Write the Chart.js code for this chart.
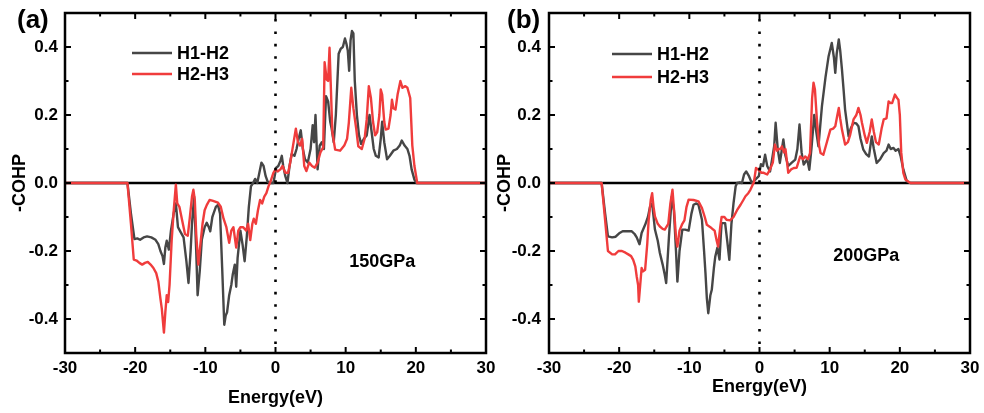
<!DOCTYPE html>
<html>
<head>
<meta charset="utf-8">
<script src="https://cdn.jsdelivr.net/npm/chart.js@4"></script>
<style>
  body { margin: 0; background: #fff; }
  #wrap { position: relative; width: 984px; height: 413px; }
  canvas { display: block; position: absolute; top: 0; }
  #panelA { left: 0; }
  #panelB { left: 492px; }
</style>
</head>
<body>
<div id="wrap">
  <canvas id="panelA" width="512" height="413"></canvas>
  <canvas id="panelB" width="492" height="413"></canvas>
</div>
<script>
// -COHP curves, [energy (eV), -COHP] pairs
const h12_150 = [
  [-30, 0], [-21.1, 0], [-20.6, -0.09], [-20.1, -0.165], [-19.7, -0.163], [-19.3, -0.167], [-18.8, -0.16],
  [-18.3, -0.157], [-17.7, -0.16], [-17.1, -0.167], [-16.7, -0.18], [-16.4, -0.2], [-16.1, -0.215],
  [-15.9, -0.238], [-15.7, -0.19], [-15.5, -0.17], [-15.2, -0.196], [-14.9, -0.14], [-14.5, -0.088],
  [-14.2, -0.06], [-13.9, -0.13], [-13.5, -0.145], [-13.1, -0.16], [-12.7, -0.23], [-12.4, -0.294],
  [-12.1, -0.2], [-11.9, -0.12], [-11.6, -0.04], [-11.3, -0.2], [-11.1, -0.33], [-10.8, -0.26],
  [-10.5, -0.167], [-10.1, -0.13], [-9.8, -0.117], [-9.5, -0.13], [-9.3, -0.142], [-9.0, -0.1],
  [-8.8, -0.088], [-8.5, -0.07], [-8.2, -0.064], [-7.9, -0.09], [-7.6, -0.25], [-7.3, -0.417],
  [-7.1, -0.39], [-6.9, -0.38], [-6.6, -0.33], [-6.3, -0.3], [-6.1, -0.27], [-5.8, -0.24], [-5.6, -0.305],
  [-5.4, -0.22], [-5.0, -0.14], [-4.7, -0.18], [-4.4, -0.23], [-4.1, -0.16], [-3.8, -0.07], [-3.5, -0.01],
  [-3.2, 0.0], [-2.9, 0.012], [-2.6, 0.0], [-2.3, 0.03], [-2.0, 0.06], [-1.7, 0.05], [-1.4, 0.02],
  [-1.1, 0.003], [-0.7, 0.0], [-0.3, 0.0], [0.1, 0.045], [0.4, 0.05], [0.7, 0.065], [0.9, 0.08],
  [1.1, 0.05], [1.4, 0.02], [1.7, 0.0], [2.0, 0.05], [2.3, 0.085], [2.7, 0.08], [3.0, 0.1], [3.3, 0.13],
  [3.6, 0.155], [3.9, 0.1], [4.2, 0.07], [4.6, 0.06], [5.0, 0.1], [5.3, 0.17], [5.5, 0.12], [5.7, 0.2],
  [6.0, 0.04], [6.3, 0.11], [6.6, 0.12], [6.9, 0.1], [7.2, 0.255], [7.5, 0.24], [7.8, 0.18], [8.0, 0.16],
  [8.3, 0.12], [8.6, 0.2], [9.0, 0.38], [9.3, 0.395], [9.6, 0.4], [9.9, 0.425], [10.1, 0.41], [10.3, 0.39],
  [10.5, 0.33], [10.7, 0.42], [10.9, 0.447], [11.1, 0.44], [11.3, 0.3], [11.6, 0.2], [11.9, 0.14],
  [12.2, 0.115], [12.6, 0.13], [13.0, 0.14], [13.4, 0.2], [13.7, 0.15], [14.0, 0.1], [14.3, 0.08],
  [14.7, 0.075], [15.0, 0.13], [15.2, 0.18], [15.5, 0.12], [15.9, 0.07], [16.3, 0.08], [16.8, 0.095],
  [17.3, 0.1], [17.7, 0.11], [18.0, 0.125], [18.4, 0.11], [18.8, 0.1], [19.1, 0.08], [19.4, 0.04],
  [19.8, 0.01], [20.1, 0.0], [30, 0]
];

const h23_150 = [
  [-30, 0], [-21.1, 0], [-20.6, -0.12], [-20.2, -0.225], [-19.8, -0.228], [-19.4, -0.235], [-19.0, -0.24],
  [-18.6, -0.235], [-18.2, -0.232], [-17.8, -0.24], [-17.4, -0.25], [-17.0, -0.265], [-16.7, -0.29],
  [-16.4, -0.34], [-16.2, -0.37], [-15.9, -0.44], [-15.7, -0.38], [-15.5, -0.33], [-15.3, -0.35],
  [-15.1, -0.3], [-14.8, -0.17], [-14.5, -0.08], [-14.2, -0.005], [-14.0, -0.06], [-13.7, -0.07],
  [-13.3, -0.11], [-12.9, -0.15], [-12.5, -0.155], [-12.2, -0.1], [-11.9, -0.04], [-11.7, -0.02],
  [-11.5, -0.05], [-11.3, -0.15], [-11.0, -0.24], [-10.7, -0.18], [-10.4, -0.12], [-10.1, -0.08],
  [-9.8, -0.065], [-9.4, -0.05], [-9.0, -0.052], [-8.6, -0.055], [-8.2, -0.058], [-7.8, -0.07],
  [-7.4, -0.105], [-7.0, -0.13], [-6.6, -0.176], [-6.3, -0.14], [-6.0, -0.13], [-5.6, -0.19], [-5.3, -0.14],
  [-5.0, -0.13], [-4.6, -0.13], [-4.2, -0.14], [-3.9, -0.12], [-3.6, -0.168], [-3.3, -0.12], [-3.1, -0.105],
  [-2.8, -0.12], [-2.5, -0.08], [-2.2, -0.05], [-1.9, -0.06], [-1.6, -0.04], [-1.3, -0.03], [-1.0, -0.01],
  [-0.7, 0.005], [-0.3, 0.03], [0.0, 0.04], [0.3, 0.034], [0.7, 0.04], [1.0, 0.05], [1.4, 0.03],
  [1.8, 0.03], [2.1, 0.06], [2.5, 0.11], [2.9, 0.16], [3.2, 0.12], [3.5, 0.11], [3.8, 0.13], [4.1, 0.05],
  [4.4, 0.035], [4.8, 0.06], [5.2, 0.05], [5.6, 0.045], [6.0, 0.06], [6.4, 0.09], [6.8, 0.105],
  [7.0, 0.355], [7.3, 0.304], [7.5, 0.3], [7.7, 0.398], [8.1, 0.15], [8.5, 0.098], [9.2, 0.095],
  [9.8, 0.11], [10.2, 0.13], [10.45, 0.177], [10.8, 0.28], [11.1, 0.22], [11.5, 0.16], [11.8, 0.108],
  [12.3, 0.1], [12.7, 0.13], [13.0, 0.187], [13.3, 0.285], [13.6, 0.25], [13.9, 0.18], [14.2, 0.14],
  [14.5, 0.15], [14.8, 0.2], [15.0, 0.275], [15.2, 0.26], [15.5, 0.18], [15.7, 0.157], [16.1, 0.16],
  [16.4, 0.2], [16.6, 0.245], [16.8, 0.22], [17.1, 0.216], [17.4, 0.26], [17.8, 0.3], [18.1, 0.28],
  [18.5, 0.285], [18.8, 0.28], [19.2, 0.25], [19.5, 0.11], [19.8, 0.05], [20.2, 0.0], [30, 0]
];

const h12_200 = [
  [-30, 0], [-22.5, 0], [-22.0, -0.09], [-21.6, -0.157], [-21.0, -0.16], [-20.5, -0.158], [-20.0, -0.148],
  [-19.5, -0.142], [-18.8, -0.142], [-18.2, -0.142], [-17.8, -0.15], [-17.5, -0.16], [-17.1, -0.18],
  [-16.8, -0.147], [-16.3, -0.123], [-15.9, -0.1], [-15.6, -0.07], [-15.3, -0.06], [-14.9, -0.137],
  [-14.5, -0.17], [-14.2, -0.206], [-13.8, -0.24], [-13.5, -0.27], [-13.3, -0.294], [-12.9, -0.157],
  [-12.5, -0.04], [-12.2, -0.08], [-11.9, -0.2], [-11.7, -0.29], [-11.4, -0.2], [-11.0, -0.137],
  [-10.6, -0.137], [-10.1, -0.14], [-9.7, -0.09], [-9.4, -0.064], [-9.0, -0.06], [-8.7, -0.064],
  [-8.2, -0.108], [-7.9, -0.2], [-7.7, -0.265], [-7.5, -0.34], [-7.3, -0.383], [-7.0, -0.33],
  [-6.8, -0.314], [-6.5, -0.25], [-6.3, -0.216], [-6.0, -0.19], [-5.7, -0.225], [-5.5, -0.15],
  [-5.4, -0.118], [-4.9, -0.118], [-4.6, -0.17], [-4.3, -0.226], [-4.0, -0.12], [-3.7, -0.059],
  [-3.4, -0.01], [-3.2, 0.0], [-2.8, 0.002], [-2.5, 0.0], [-2.2, 0.025], [-1.9, 0.034], [-1.5, 0.02],
  [-1.1, 0.0], [-0.6, 0.01], [-0.1, 0.02], [0.2, 0.055], [0.5, 0.05], [0.8, 0.083], [1.1, 0.05],
  [1.5, 0.034], [1.8, 0.07], [2.1, 0.11], [2.3, 0.177], [2.6, 0.1], [2.9, 0.059], [3.2, 0.1],
  [3.4, 0.128], [3.7, 0.08], [4.1, 0.05], [4.6, 0.06], [5.1, 0.069], [5.4, 0.1], [5.7, 0.172],
  [6.0, 0.09], [6.3, 0.054], [6.8, 0.07], [7.1, 0.039], [7.4, 0.1], [7.8, 0.2], [8.1, 0.15],
  [8.4, 0.108], [8.9, 0.226], [9.4, 0.31], [9.85, 0.373], [10.3, 0.412], [10.6, 0.37], [10.8, 0.324],
  [11.0, 0.38], [11.3, 0.422], [11.5, 0.39], [11.75, 0.334], [12.0, 0.27], [12.2, 0.216], [12.7, 0.137],
  [13.0, 0.16], [13.4, 0.177], [13.8, 0.175], [14.1, 0.167], [14.4, 0.13], [14.8, 0.098], [15.2, 0.085],
  [15.6, 0.078], [16.0, 0.137], [16.3, 0.1], [16.7, 0.059], [17.2, 0.07], [17.7, 0.088], [18.1, 0.095],
  [18.4, 0.113], [18.7, 0.1], [19.1, 0.103], [19.4, 0.095], [19.8, 0.1], [20.1, 0.08], [20.5, 0.04],
  [21.0, 0.005], [21.5, 0], [30, 0]
];

const h23_200 = [
  [-30, 0], [-22.5, 0], [-22.0, -0.11], [-21.6, -0.2], [-21.0, -0.21], [-20.6, -0.21], [-20.1, -0.2],
  [-19.6, -0.2], [-19.1, -0.205], [-18.7, -0.21], [-18.3, -0.215], [-18.0, -0.226], [-17.7, -0.245],
  [-17.5, -0.275], [-17.3, -0.3], [-17.2, -0.349], [-17.0, -0.3], [-16.8, -0.25], [-16.6, -0.26],
  [-16.3, -0.255], [-16.0, -0.18], [-15.8, -0.11], [-15.5, -0.05], [-15.3, -0.03], [-15.1, -0.07],
  [-14.9, -0.098], [-14.5, -0.12], [-14.2, -0.128], [-13.8, -0.135], [-13.5, -0.137], [-13.0, -0.12],
  [-12.7, -0.06], [-12.4, -0.02], [-12.1, -0.1], [-11.9, -0.16], [-11.7, -0.187], [-11.4, -0.14],
  [-11.0, -0.12], [-10.7, -0.11], [-10.4, -0.07], [-10.1, -0.049], [-9.4, -0.05], [-8.7, -0.054],
  [-8.2, -0.074], [-7.8, -0.1], [-7.5, -0.123], [-7.0, -0.13], [-6.6, -0.137], [-6.4, -0.14],
  [-6.1, -0.17], [-5.9, -0.187], [-5.6, -0.13], [-5.4, -0.1], [-5.0, -0.1], [-4.7, -0.108],
  [-4.2, -0.11], [-3.7, -0.1], [-3.2, -0.08], [-2.7, -0.064], [-2.3, -0.05], [-2.0, -0.039],
  [-1.6, -0.03], [-1.3, -0.02], [-0.8, 0.002], [-0.5, 0.044], [-0.2, 0.04], [0.3, 0.03], [0.6, 0.03],
  [1.1, 0.025], [1.5, 0.04], [1.9, 0.06], [2.2, 0.113], [2.5, 0.095], [2.7, 0.1], [3.0, 0.1],
  [3.2, 0.108], [3.5, 0.09], [3.7, 0.1], [4.1, 0.03], [4.5, 0.04], [4.9, 0.044], [5.3, 0.045],
  [5.8, 0.078], [6.2, 0.07], [6.5, 0.078], [6.9, 0.07], [7.2, 0.088], [7.5, 0.25], [7.7, 0.295],
  [7.9, 0.275], [8.2, 0.18], [8.5, 0.11], [8.7, 0.088], [9.1, 0.083], [9.6, 0.12], [10.1, 0.157],
  [10.5, 0.16], [10.8, 0.167], [11.1, 0.2], [11.3, 0.221], [11.5, 0.19], [11.75, 0.157], [12.2, 0.113],
  [12.6, 0.12], [12.9, 0.14], [13.4, 0.187], [13.8, 0.2], [14.1, 0.221], [14.4, 0.2], [14.6, 0.177],
  [15.0, 0.14], [15.3, 0.118], [15.7, 0.15], [16.0, 0.187], [16.3, 0.15], [16.6, 0.12], [17.0, 0.113],
  [17.4, 0.16], [17.7, 0.187], [18.1, 0.19], [18.4, 0.24], [18.7, 0.235], [18.9, 0.235], [19.3, 0.26],
  [19.6, 0.25], [19.8, 0.245], [20.0, 0.2], [20.2, 0.09], [20.5, 0.03], [20.8, 0.01], [21.5, 0], [30, 0]
];

const seriesNames = ['H1-H2', 'H2-H3'];
const xMajor = [-30, -20, -10, 0, 10, 20, 30];
const xMinor = [-25, -15, -5, 5, 15, 25];
const yMajor = [-0.4, -0.2, 0, 0.2, 0.4];
const yMinor = [-0.3, -0.1, 0.1, 0.3];

const FONT = 'Arial, "Liberation Sans", sans-serif';
const GREY = '#464646';
const RED = '#f03c3c';

const toPoints = arr => arr.map(([x, y]) => ({ x, y }));

// zero line, Fermi level, closed frame with inward ticks, legend and labels
const panelDecor = {
  id: 'panelDecor',
  beforeDatasetsDraw(chart) {
    const { ctx, chartArea: a, scales: { y } } = chart;
    const y0 = y.getPixelForValue(0);
    ctx.save();
    ctx.strokeStyle = '#000';
    ctx.lineWidth = 2.5;
    ctx.beginPath();
    ctx.moveTo(a.left, y0);
    ctx.lineTo(a.right, y0);
    ctx.stroke();
    ctx.restore();
  },
  afterDatasetsDraw(chart, args, opts) {
    const { ctx, chartArea: a, scales: { x, y } } = chart;
    ctx.save();
    ctx.strokeStyle = '#000';
    ctx.fillStyle = '#000';

    // dotted Fermi level
    const x0 = x.getPixelForValue(0);
    ctx.lineWidth = 2.6;
    ctx.setLineDash([2.6, 9.8]);
    ctx.beginPath();
    ctx.moveTo(x0, a.top + 6);
    ctx.lineTo(x0, a.bottom);
    ctx.stroke();
    ctx.setLineDash([]);

    // frame
    ctx.lineWidth = 2.5;
    ctx.strokeRect(a.left, a.top, a.right - a.left, a.bottom - a.top);

    // ticks pointing inward, mirrored on all sides
    ctx.lineWidth = 2;
    const xTick = (v, len) => {
      const px = x.getPixelForValue(v);
      ctx.moveTo(px, a.bottom); ctx.lineTo(px, a.bottom - len);
      ctx.moveTo(px, a.top); ctx.lineTo(px, a.top + len);
    };
    const yTick = (v, len) => {
      const py = y.getPixelForValue(v);
      ctx.moveTo(a.left, py); ctx.lineTo(a.left + len, py);
      ctx.moveTo(a.right, py); ctx.lineTo(a.right - len, py);
    };
    ctx.beginPath();
    xMajor.forEach(v => xTick(v, 6));
    xMinor.forEach(v => xTick(v, 3.5));
    yMajor.forEach(v => yTick(v, 6));
    yMinor.forEach(v => yTick(v, 3.5));
    ctx.stroke();

    // legend
    const lg = opts.legend;
    ctx.font = `bold 18px ${FONT}`;
    ctx.textBaseline = 'middle';
    ctx.textAlign = 'left';
    chart.data.datasets.forEach((ds, i) => {
      const ly = lg.y + i * lg.gap;
      ctx.strokeStyle = ds.borderColor;
      ctx.lineWidth = 2.5;
      ctx.beginPath();
      ctx.moveTo(lg.x, ly);
      ctx.lineTo(lg.x + lg.len, ly);
      ctx.stroke();
      ctx.fillText(ds.label, lg.x + lg.len + 5, ly + 1);
    });

    // pressure tag
    ctx.textAlign = 'center';
    ctx.fillText(opts.pressure, x.getPixelForValue(opts.pressureAt[0]), y.getPixelForValue(opts.pressureAt[1]));

    // panel letter
    ctx.font = `bold 26px ${FONT}`;
    ctx.textAlign = 'left';
    ctx.fillText(opts.letter, opts.letterAt[0], opts.letterAt[1]);
    ctx.restore();
  }
};

function buildPanel(id, cfg) {
  return new Chart(document.getElementById(id), {
    type: 'line',
    data: {
      datasets: [
        { label: seriesNames[0], data: toPoints(cfg.h12), borderColor: GREY, order: 1 },
        { label: seriesNames[1], data: toPoints(cfg.h23), borderColor: RED, order: 0 }
      ]
    },
    options: {
      responsive: false,
      animation: false,
      events: [],
      layout: { padding: cfg.padding },
      elements: {
        point: { radius: 0 },
        line: { borderWidth: 2.4, tension: 0, borderJoinStyle: 'round' }
      },
      plugins: {
        legend: { display: false },
        tooltip: { enabled: false },
        panelDecor: {
          legend: cfg.legend,
          pressure: cfg.pressure,
          pressureAt: cfg.pressureAt,
          letter: cfg.letter,
          letterAt: cfg.letterAt
        }
      },
      scales: {
        x: {
          type: 'linear',
          min: -30,
          max: 30,
          afterBuildTicks: s => { s.ticks = xMajor.map(value => ({ value })); },
          afterFit: s => { s.height = cfg.xHeight; s.paddingLeft = 0; s.paddingRight = 0; },
          grid: { display: false, drawTicks: false },
          border: { display: false },
          ticks: {
            color: '#000',
            padding: 5,
            maxRotation: 0,
            autoSkip: false,
            font: { family: FONT, size: 17, weight: 'bold' },
            callback: v => String(v)
          },
          title: {
            display: true,
            text: 'Energy(eV)',
            color: '#000',
            font: { family: FONT, size: 18, weight: 'bold' },
            padding: { top: 0, bottom: cfg.xTitlePad }
          }
        },
        y: {
          min: -0.5,
          max: 0.5,
          afterBuildTicks: s => { s.ticks = yMajor.map(value => ({ value })); },
          afterFit: s => { s.width = cfg.yWidth; s.paddingTop = 0; s.paddingBottom = 0; },
          grid: { display: false, drawTicks: false },
          border: { display: false },
          ticks: {
            color: '#000',
            padding: cfg.yTickPad,
            font: { family: FONT, size: 17, weight: 'bold' },
            callback: v => v.toFixed(1)
          },
          title: {
            display: true,
            text: '-COHP',
            color: '#000',
            font: { family: FONT, size: 18, weight: 'bold' },
            padding: { top: cfg.yTitlePad, bottom: 0 }
          }
        }
      }
    },
    plugins: [panelDecor]
  });
}

buildPanel('panelA', {
  h12: h12_150,
  h23: h23_150,
  padding: { left: 0, right: 26, top: 13, bottom: 0 },
  xHeight: 60,
  yWidth: 65,
  yTickPad: 7,
  xTitlePad: 4,
  yTitlePad: 9,
  legend: { x: 132, y: 53, gap: 21, len: 40 },
  pressure: '150GPa',
  pressureAt: [15.2, -0.232],
  letter: '(a)',
  letterAt: [17, 21]
});

buildPanel('panelB', {
  h12: h12_200,
  h23: h23_200,
  padding: { left: 0, right: 14, top: 13, bottom: 0 },
  xHeight: 60,
  yWidth: 57,
  yTickPad: 8,
  xTitlePad: 15,
  yTitlePad: 2,
  legend: { x: 120, y: 54, gap: 23, len: 40 },
  pressure: '200GPa',
  pressureAt: [15.2, -0.214],
  letter: '(b)',
  letterAt: [15, 21]
});
</script>
</body>
</html>
